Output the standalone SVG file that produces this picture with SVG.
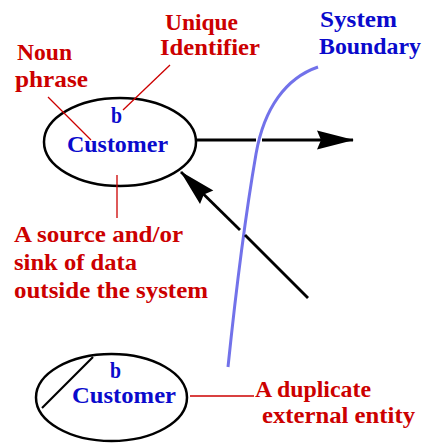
<svg xmlns="http://www.w3.org/2000/svg" width="422" height="444" viewBox="0 0 422 444">
  <style>
    text { font-family: "Liberation Serif", "Times New Roman", serif; font-weight: bold; font-size: 24px; }
    .red { fill: #cc0000; }
    .blue { fill: #0a0acc; }
    .entity { fill: #ffffff; stroke: #000000; stroke-width: 2.5; }
    .flow { fill: none; stroke: #000000; stroke-width: 2.8; }
    .leader { fill: none; stroke: #cc0000; stroke-width: 1.3; }
    .boundary { fill: none; stroke: #7272ea; stroke-width: 3; }
  </style>
  <defs>
    <marker id="head" markerUnits="userSpaceOnUse" viewBox="-38 -11 40 22" refX="0" refY="0" markerWidth="40" markerHeight="22" orient="auto" overflow="visible">
      <path d="M1,0 L-36,-9.5 L-32,0 L-36,9.5 Z" fill="#000000"/>
    </marker>
  </defs>

  <rect width="422" height="444" fill="#ffffff"/>

  <!-- system boundary curve -->
  <g id="system-boundary">
    <path class="boundary" d="M318,67 C286,78 264,108 256,154 C247,206 236,290 228,367"/>
    <text class="blue" x="320" y="27" textLength="77" lengthAdjust="spacingAndGlyphs">System</text>
    <text class="blue" x="319" y="54" textLength="102" lengthAdjust="spacingAndGlyphs">Boundary</text>
  </g>

  <!-- external entity -->
  <g id="customer">
    <ellipse class="entity" cx="120" cy="142" rx="76" ry="44"/>
    <text class="blue" x="111" y="123" textLength="11" lengthAdjust="spacingAndGlyphs">b</text>
    <text class="blue" x="67" y="152" textLength="101" lengthAdjust="spacingAndGlyphs">Customer</text>
  </g>

  <!-- duplicate external entity (diagonal stroke marks the copy) -->
  <g id="customer-duplicate">
    <ellipse class="entity" cx="111.5" cy="397.5" rx="75.5" ry="43.5"/>
    <line x1="93" y1="357" x2="42" y2="408" stroke="#000000" stroke-width="2.2"/>
    <text class="blue" x="110" y="378" textLength="11" lengthAdjust="spacingAndGlyphs">b</text>
    <text class="blue" x="72" y="403" textLength="104" lengthAdjust="spacingAndGlyphs">Customer</text>
  </g>

  <!-- annotation labels -->
  <g id="label-identifier">
    <text class="red" x="165" y="30" textLength="73" lengthAdjust="spacingAndGlyphs">Unique</text>
    <text class="red" x="160" y="55" textLength="100" lengthAdjust="spacingAndGlyphs">Identifier</text>
  </g>
  <g id="label-noun">
    <text class="red" x="17" y="60" textLength="55" lengthAdjust="spacingAndGlyphs">Noun</text>
    <text class="red" x="15" y="87" textLength="73" lengthAdjust="spacingAndGlyphs">phrase</text>
  </g>
  <g id="label-source">
    <text class="red" x="14" y="242" textLength="169" lengthAdjust="spacingAndGlyphs">A source and/or</text>
    <text class="red" x="14" y="270" textLength="123" lengthAdjust="spacingAndGlyphs">sink of data</text>
    <text class="red" x="14" y="298" textLength="194" lengthAdjust="spacingAndGlyphs">outside the system</text>
  </g>
  <g id="label-duplicate">
    <text class="red" x="255" y="397" textLength="116" lengthAdjust="spacingAndGlyphs">A duplicate</text>
    <text class="red" x="262" y="423" textLength="153" lengthAdjust="spacingAndGlyphs">external entity</text>
  </g>

  <!-- data flows and leader lines -->
  <g id="connectors">
    <line class="flow" x1="196" y1="140" x2="256" y2="140"/>
    <line class="flow" x1="262" y1="140" x2="353" y2="140" marker-end="url(#head)"/>
    <line class="flow" x1="308" y1="298" x2="245" y2="235"/>
    <line class="flow" x1="240" y1="230" x2="181" y2="172" marker-end="url(#head)"/>
    <line class="leader" x1="170" y1="65" x2="123" y2="110"/>
    <line class="leader" x1="48" y1="97" x2="91" y2="140"/>
    <line class="leader" x1="117" y1="175" x2="117" y2="218"/>
    <line class="leader" x1="190" y1="396" x2="254" y2="396"/>
  </g>
</svg>
